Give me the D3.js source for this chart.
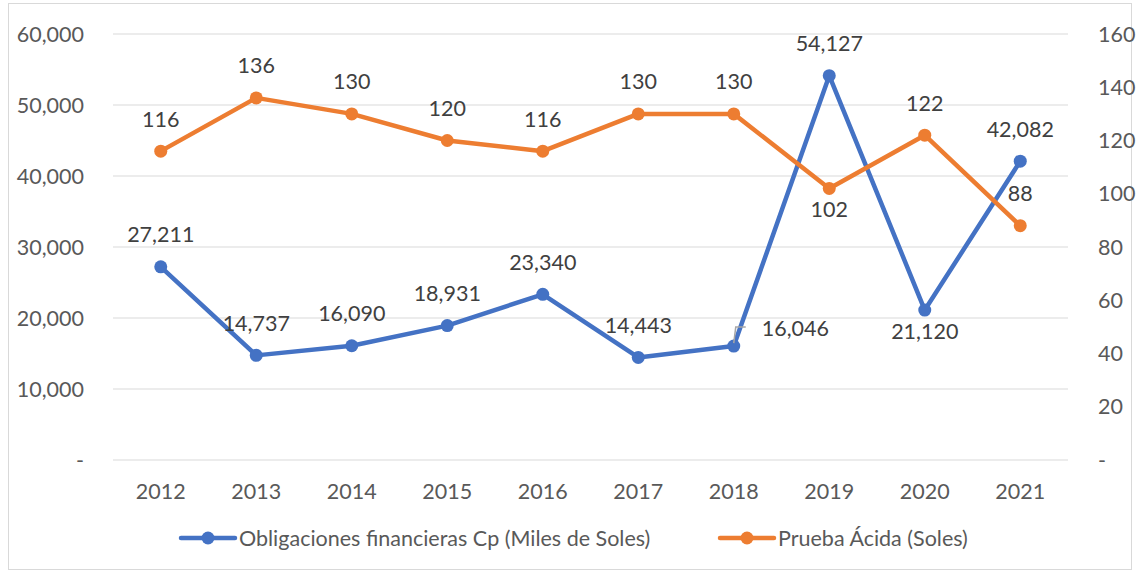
<!DOCTYPE html>
<html><head><meta charset="utf-8">
<script src="https://cdn.jsdelivr.net/npm/d3@7"></script>
<style>body{margin:0;background:#fff}text{font-family:Lato,"Open Sans",sans-serif}</style>
</head><body><svg id="c" width="1139" height="573"></svg>
<script>
const years = ["2012","2013","2014","2015","2016","2017","2018","2019","2020","2021"];
const obligaciones = [27211,14737,16090,18931,23340,14443,16046,54127,21120,42082];
const prueba = [116,136,130,120,116,130,130,102,122,88];
const leftTicks = [0,10000,20000,30000,40000,50000,60000];
const rightTicks = [0,20,40,60,80,100,120,140,160];
const seriesNames = ["Obligaciones financieras Cp (Miles de Soles)","Prueba Ácida (Soles)"];
const blueLabelPos = ["a","a","a","a","a","a","r","a","b","a"];
const orangeLabelPos = ["a","a","a","a","a","a","a","b","a","a"];

const FS = 21.5;
const svg = d3.select("#c");
svg.append("rect").attr("x",8.5).attr("y",3.5).attr("width",1123).attr("height",566).attr("fill","#fff").attr("stroke","#d9d9d9");

const x = d3.scaleBand().domain(years).range([113,1068]);
const yL = d3.scaleLinear().domain([0,60000]).range([460,34]);
const yR = d3.scaleLinear().domain([0,160]).range([460,34]);
const cx = d => x(d)+x.bandwidth()/2;

svg.append("g").selectAll("line").data(leftTicks).join("line")
  .attr("x1",113).attr("x2",1068).attr("y1",d=>yL(d)).attr("y2",d=>yL(d))
  .attr("stroke","#d9d9d9").attr("stroke-width",1);

const fmt = d => d===0 ? "-" : d3.format(",")(d);
svg.append("g").selectAll("text").data(leftTicks).join("text")
  .attr("x",84).attr("y",d=>yL(d)).attr("dy","0.35em").attr("text-anchor","end")
  .attr("font-size",FS).attr("fill","#595959").text(fmt);
svg.append("g").selectAll("text").data(rightTicks).join("text")
  .attr("x",1098).attr("y",d=>yR(d)).attr("dy","0.35em").attr("text-anchor","start")
  .attr("font-size",FS).attr("fill","#595959").text(fmt);
svg.append("g").selectAll("text").data(years).join("text")
  .attr("x",d=>cx(d)).attr("y",491).attr("dy","0.35em").attr("text-anchor","middle")
  .attr("font-size",FS).attr("fill","#595959").text(d=>d);

const blue="#4472C4", orange="#ED7D31";
function series(vals, y, color){
  const pts = vals.map((v,i)=>[cx(years[i]), y(v)]);
  svg.append("path").attr("d",d3.line()(pts)).attr("fill","none").attr("stroke",color)
    .attr("stroke-width",4.5).attr("stroke-linejoin","round").attr("stroke-linecap","round");
  svg.append("g").selectAll("circle").data(pts).join("circle")
    .attr("cx",d=>d[0]).attr("cy",d=>d[1]).attr("r",6.5).attr("fill",color);
  return pts;
}
const bp = series(obligaciones, yL, blue);
const op = series(prueba, yR, orange);

function labels(pts, vals, pos, f){
  pts.forEach((p,i)=>{
    let lx=p[0], ly=p[1], anchor="middle";
    if(pos[i]==="a") ly = p[1]-32;
    else if(pos[i]==="b") ly = p[1]+21;
    else if(pos[i]==="r"){ lx = p[0]+28; ly = p[1]-18; anchor="start";
      svg.append("path").attr("d",`M${p[0]},${p[1]-3}L${p[0]+2},${p[1]-19}L${p[0]+12},${p[1]-19}`)
        .attr("fill","none").attr("stroke","#a6a6a6").attr("stroke-width",1.5);
    }
    svg.append("text").attr("x",lx).attr("y",ly).attr("dy","0.35em").attr("text-anchor",anchor)
      .attr("font-size",FS).attr("fill","#404040").text(f(vals[i]));
  });
}
labels(bp, obligaciones, blueLabelPos, d3.format(","));
labels(op, prueba, orangeLabelPos, d=>String(d));

const leg = [{name:seriesNames[0],color:blue,x:181},{name:seriesNames[1],color:orange,x:720}];
leg.forEach(l=>{
  svg.append("line").attr("x1",l.x).attr("x2",l.x+54).attr("y1",538).attr("y2",538)
    .attr("stroke",l.color).attr("stroke-width",4.5).attr("stroke-linecap","round");
  svg.append("circle").attr("cx",l.x+27).attr("cy",538).attr("r",6.5).attr("fill",l.color);
  svg.append("text").attr("x",l.x+58).attr("y",538).attr("dy","0.35em")
    .attr("font-size",FS).attr("fill","#595959").text(l.name);
});
</script></body></html>
